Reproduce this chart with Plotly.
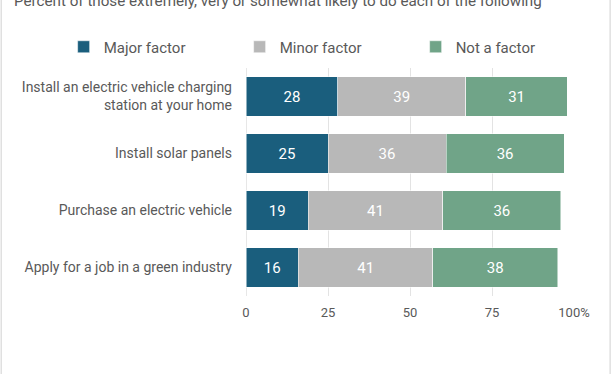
import plotly.graph_objects as go

categories = [
    "Install an electric vehicle charging<br>station at your home",
    "Install solar panels",
    "Purchase an electric vehicle",
    "Apply for a job in a green industry",
]
major = [28, 25, 19, 16]
minor = [39, 36, 41, 41]
not_factor = [31, 36, 36, 38]
series_names = ["Major factor", "Minor factor", "Not a factor"]
colors = ["#1a5e7d", "#b8b8b8", "#70a488"]
tick_vals = [0, 25, 50, 75, 100]
tick_text = ["0", "25", "50", "75", "100%"]
subtitle = "Percent of those extremely, very or somewhat likely to do each of the following"

W, H = 612, 374
L, R, T, B = 245.7, 37.7, 68, 78
PW = W - L - R
PH = H - T - B

def px_x(p):
    return (p - L) / PW

def px_y(p):
    return (H - B - p) / PH

fig = go.Figure()
for name, vals, col in zip(series_names, [major, minor, not_factor], colors):
    fig.add_trace(go.Bar(
        y=categories, x=vals, name=name, orientation="h",
        marker=dict(color=col, line=dict(color="rgba(255,255,255,0.5)", width=1)),
        text=[str(v) for v in vals], textposition="inside", insidetextanchor="middle",
        textfont=dict(color="white", size=15, family="Roboto"),
        hoverinfo="skip",
    ))

fig.update_layout(
    width=W, height=H, barmode="stack", bargap=0.3,
    margin=dict(l=L, r=R, t=T, b=B, autoexpand=False),
    paper_bgcolor="white", plot_bgcolor="white",
    font=dict(family="Roboto", color="#595959"),
    showlegend=True,
    legend=dict(orientation="h", x=px_x(63), xanchor="left", y=px_y(47), yanchor="middle",
                font=dict(size=15, color="#595959"), entrywidth=131, entrywidthmode="pixels",
                traceorder="normal", bgcolor="rgba(0,0,0,0)"),
    xaxis=dict(range=[0, 100], tickvals=tick_vals, ticktext=tick_text, showgrid=True,
               gridcolor="#e3e3e3", gridwidth=1, zeroline=False, showline=False,
               tickfont=dict(size=13, color="#595959"), ticks="", ticklabelstandoff=7,
               fixedrange=True),
    yaxis=dict(autorange="reversed", showgrid=False, tickfont=dict(size=14, color="#595959"),
               ticks="", ticklabelstandoff=13, fixedrange=True),
    uniformtext=dict(mode="show", minsize=10),
    shapes=[
        dict(type="line", xref="paper", yref="paper", x0=px_x(0.5), x1=px_x(0.5), y0=px_y(0), y1=px_y(H),
             line=dict(color="#e0e0e0", width=1.5)),
        dict(type="line", xref="paper", yref="paper", x0=px_x(610.5), x1=px_x(610.5), y0=px_y(0), y1=px_y(H),
             line=dict(color="#e0e0e0", width=1.5)),
        dict(type="line", xref="x", yref="paper", x0=0, x1=0, y0=0, y1=1,
             line=dict(color="#d0d0d0", width=1), layer="below"),
    ],
    annotations=[
        dict(text=subtitle, xref="paper", yref="paper", x=px_x(11), y=px_y(1), xanchor="left",
             yanchor="middle", showarrow=False, font=dict(size=15.2, color="#595959")),
    ],
)

fig.write_html("out.html", config={"displayModeBar": False},
               post_script="document.body.style.margin='0';document.body.style.overflow='hidden';")
